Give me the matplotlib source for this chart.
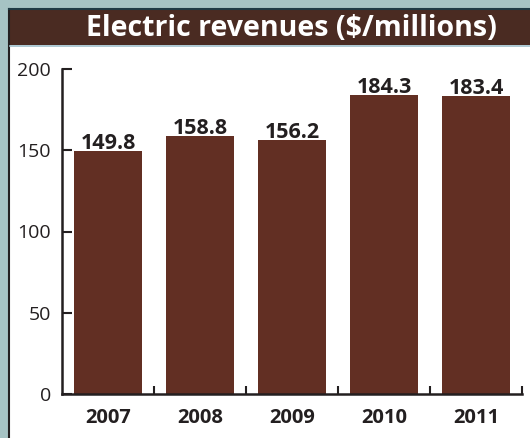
import matplotlib.pyplot as plt
from matplotlib.patches import Rectangle
from matplotlib.lines import Line2D

# datos
years = ['2007', '2008', '2009', '2010', '2011']
revenues = [149.8, 158.8, 156.2, 184.3, 183.4]
yticks = [0, 50, 100, 150, 200]

fondo = '#a6c3c4'
marron_titulo = '#4a2b22'
marron_barra = '#622f23'
negro = '#231f20'

plt.rcParams['font.family'] = ['Open Sans', 'DejaVu Sans']

W, H = 530, 438
fig = plt.figure(figsize=(W / 100, H / 100), dpi=100)
fig.patch.set_facecolor(fondo)

# panel blanco con borde
fig.patches.append(Rectangle((9 / W, 0), 1, 1 - 9 / H, transform=fig.transFigure,
                             facecolor='white', edgecolor='none', zorder=0))
fig.lines.append(Line2D([9 / W, 9 / W], [0, 1 - 9 / H], transform=fig.transFigure,
                        color=negro, lw=1.5))
fig.lines.append(Line2D([9 / W, 1], [1 - 9 / H, 1 - 9 / H], transform=fig.transFigure,
                        color='#1f3a45', lw=1.5))
# barra del titulo
fig.patches.append(Rectangle((9.5 / W, 1 - 45 / H), 1, 35 / H, transform=fig.transFigure,
                             facecolor=marron_titulo, edgecolor='none', zorder=1))
fig.lines.append(Line2D([9.5 / W, 1], [1 - 46 / H, 1 - 46 / H], transform=fig.transFigure,
                        color='#9fc0cc', lw=1.2))
fig.text(291 / W, 1 - 28 / H, 'Electric revenues ($/millions)', color='white',
         fontsize=20.5, fontweight='bold', ha='center', va='center')

ax = fig.add_axes([62 / W, 44 / H, 460 / W, 325 / H])
ax.set_zorder(3)
ax.set_facecolor('none')
x = range(len(years))
ax.bar(x, revenues, width=0.73, color=marron_barra)
for i, v in zip(x, revenues):
    ax.annotate(f'{v:.1f}', (i, v), xytext=(0, 2), textcoords='offset pixels',
                ha='center', va='baseline', fontsize=15.5, fontweight='bold', color=negro)

ax.set_xlim(-0.5, len(years) - 0.5)
ax.set_ylim(0, 200)
ax.set_yticks(yticks)
ax.set_xticks([i + 0.5 for i in range(len(years))])
ax.set_xticklabels([])
ax.set_xticks(list(x), minor=True)
ax.set_xticklabels(years, minor=True, fontsize=14.5, fontweight='bold', color=negro)
ax.tick_params(axis='x', which='major', direction='in', length=6, width=1.5, color=negro)
ax.tick_params(axis='x', which='minor', length=0, pad=10)
ax.tick_params(axis='y', direction='in', length=7, width=1.5, color=negro,
               labelsize=14, labelcolor=negro, pad=8)
for s in ['top', 'right']:
    ax.spines[s].set_visible(False)
for s in ['left', 'bottom']:
    ax.spines[s].set_color(negro)
    ax.spines[s].set_linewidth(1.8)

fig.savefig('out.png', dpi=100, facecolor=fondo)
